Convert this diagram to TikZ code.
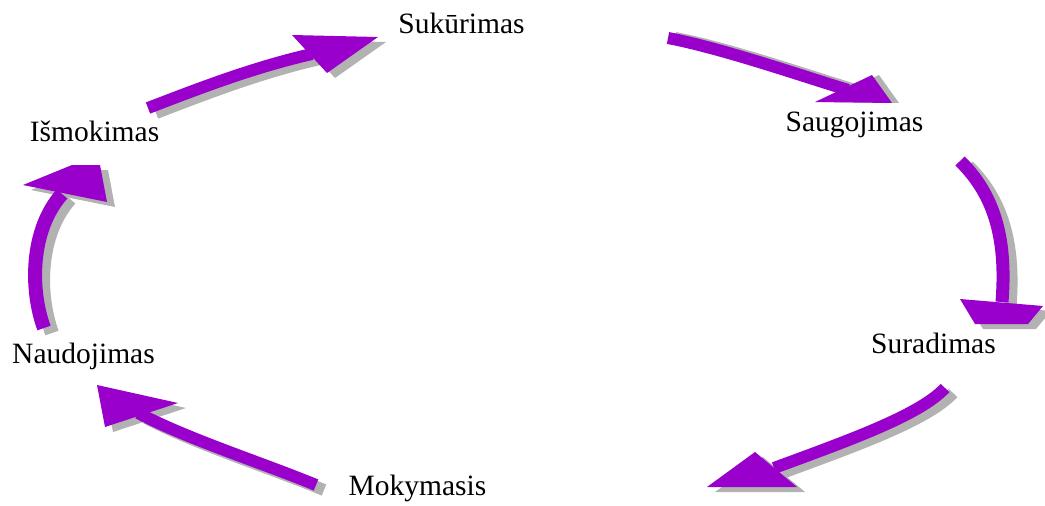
\documentclass[tikz,border=0pt]{standalone}
\usepackage{fontspec}
\setmainfont{Liberation Serif}
\definecolor{arrowpurple}{RGB}{153,0,204}
\definecolor{shadowgray}{RGB}{178,178,178}
\begin{document}
\begin{tikzpicture}[x=1pt,y=-1pt,
  label/.style={anchor=base,inner sep=0pt,font=\fontsize{29.5}{30}\selectfont},
  shaftline/.style={line width=12pt,line cap=butt}]
\useasboundingbox[fill=white] (0,0) rectangle (1045,506);
% labels
\node[label] (sukurimas)  at (461.5,33)  {Sukūrimas};
\node[label] (saugojimas) at (854.5,131) {Saugojimas};
\node[label] (suradimas)  at (933.5,353) {Suradimas};
\node[label] (mokymasis)  at (417.5,495) {Mokymasis};
\node[label] (naudojimas) at (83.5,363)  {Naudojimas};
\node[label] (ismokimas)  at (94.5,141)  {Išmokimas};
% arrow 1: Išmokimas -> Sukūrimas
\coordinate (a1s) at (148,108); \coordinate (a1p) at (190,92);
\coordinate (a1q) at (250,68);  \coordinate (a1e) at (312,54);
\coordinate (h1a) at (292,35);  \coordinate (h1b) at (378,37); \coordinate (h1c) at (327,73);
% arrow 2: Sukūrimas -> Saugojimas
\coordinate (a2s) at (668,38);  \coordinate (a2p) at (720,48);
\coordinate (a2q) at (790,72);  \coordinate (a2e) at (848,90);
\coordinate (h2a) at (815,102); \coordinate (h2b) at (872,75); \coordinate (h2c) at (892,103);
% arrow 3: Saugojimas -> Suradimas
\coordinate (a3s) at (960,161); \coordinate (a3p) at (1000,200);
\coordinate (a3q) at (1006,250); \coordinate (a3e) at (1002,302);
\coordinate (h3a) at (960,299); \coordinate (h3b) at (1043,306);
\coordinate (h3c) at (1028,324); \coordinate (h3d) at (975,324);
% arrow 4: Suradimas -> Mokymasis
\coordinate (a4s) at (945,388); \coordinate (a4p) at (920,415);
\coordinate (a4q) at (850,440); \coordinate (a4e) at (774,468);
\coordinate (h4a) at (755,452); \coordinate (h4b) at (797,487); \coordinate (h4c) at (707,487);
% arrow 5: Mokymasis -> Naudojimas
\coordinate (a5s) at (316,485); \coordinate (a5p) at (260,462);
\coordinate (a5q) at (190,440); \coordinate (a5e) at (138,413);
\coordinate (h5a) at (178,403); \coordinate (h5b) at (105,427); \coordinate (h5c) at (97,385);
% arrow 6: Naudojimas -> Išmokimas
\coordinate (a6s) at (44,328);  \coordinate (a6p) at (30,290);
\coordinate (a6q) at (30,230);  \coordinate (a6e) at (62,194);
\coordinate (h6a) at (23,185);  \coordinate (h6b) at (72,165);
\coordinate (h6c) at (100,165); \coordinate (h6d) at (107,202);
% arrow macros
\newcommand\arrowOne[1]{\draw[shaftline,draw=#1] (a1s) .. controls (a1p) and (a1q) .. (a1e);
  \fill[#1] (h1a) -- (h1b) -- (h1c) -- cycle;}
\newcommand\arrowTwo[1]{\draw[shaftline,draw=#1] (a2s) .. controls (a2p) and (a2q) .. (a2e);
  \fill[#1] (h2a) -- (h2b) -- (h2c) -- cycle;}
\newcommand\arrowThree[1]{\draw[shaftline,line width=13pt,draw=#1] (a3s) .. controls (a3p) and (a3q) .. (a3e);
  \fill[#1] (h3a) -- (h3b) -- (h3c) -- (h3d) -- cycle;}
\newcommand\arrowFour[1]{\draw[shaftline,draw=#1] (a4s) .. controls (a4p) and (a4q) .. (a4e);
  \fill[#1] (h4a) -- (h4b) -- (h4c) -- cycle;}
\newcommand\arrowFive[1]{\draw[shaftline,draw=#1] (a5s) .. controls (a5p) and (a5q) .. (a5e);
  \fill[#1] (h5a) -- (h5b) -- (h5c) -- cycle;}
\newcommand\arrowSix[1]{\draw[shaftline,line width=14pt,draw=#1] (a6s) .. controls (a6p) and (a6q) .. (a6e);
  \fill[#1] (h6a) -- (h6b) -- (h6c) -- (h6d) -- cycle;}
% shadows
\begin{scope}[transform canvas={xshift=8pt,yshift=-5pt}]
  \arrowOne{shadowgray}\arrowThree{shadowgray}\arrowFour{shadowgray}
  \arrowFive{shadowgray}\arrowSix{shadowgray}
\end{scope}
\begin{scope}[transform canvas={xshift=7pt}]
  \arrowTwo{shadowgray}
\end{scope}
% arrows
\arrowOne{arrowpurple}\arrowTwo{arrowpurple}\arrowThree{arrowpurple}
\arrowFour{arrowpurple}\arrowFive{arrowpurple}\arrowSix{arrowpurple}
\end{tikzpicture}
\end{document}
